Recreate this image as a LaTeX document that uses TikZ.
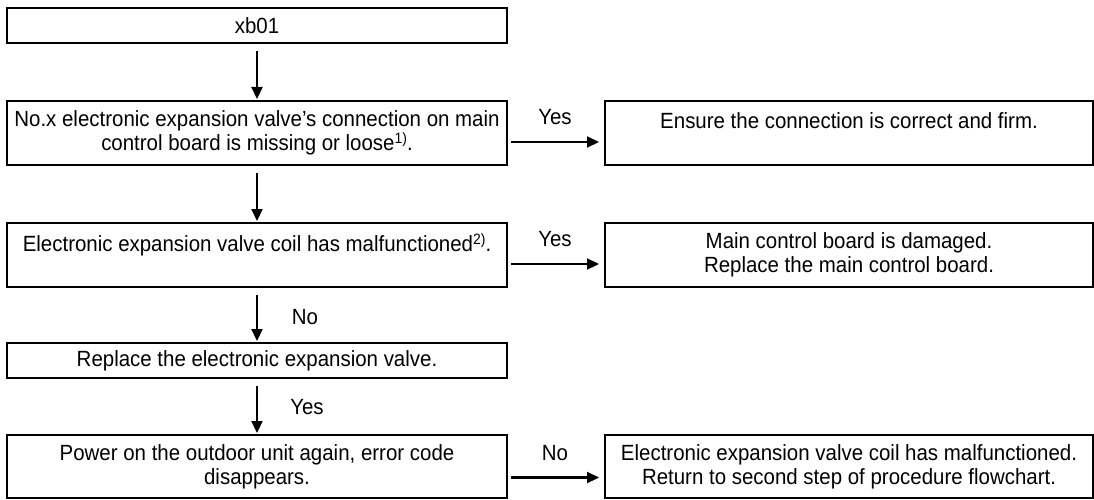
\documentclass[tikz,border=0pt]{standalone}
\usepackage{fontspec}
\setmainfont[FakeStretch=0.93]{Liberation Sans}
\usetikzlibrary{arrows.meta}
\newcommand{\fnmark}[1]{\raisebox{7pt}{\fontsize{15}{15}\selectfont #1}}
\begin{document}
\begin{tikzpicture}[x=1pt,y=-1pt,
  box/.style={draw, line width=2pt, rectangle, align=center, inner sep=2pt, font=\fontsize{22}{24}\selectfont},
  lbox/.style={box, minimum width=500pt},
  rbox/.style={box, minimum width=488pt},
  conn/.style={line width=2.2pt, -{Triangle[length=12pt,width=11pt]}},
  lab/.style={font=\fontsize{22}{24}\selectfont, inner sep=0pt}]
\useasboundingbox (0,0) rectangle (1094,500);
\node[lbox, minimum height=35pt] (b1) at (257,25.5) {xb01};
\node[lbox, minimum height=64pt] (b2) at (257,133) {No.x electronic expansion valve’s connection on main\\control board is missing or loose\fnmark{1)}.};
\node[lbox, minimum height=64pt] (b3) at (257,255) {Electronic expansion valve coil has malfunctioned\fnmark{2)}.\\\mbox{}};
\node[lbox, minimum height=35pt] (b4) at (257,360.5) {Replace the electronic expansion valve.};
\node[lbox, minimum height=63pt] (b5) at (257,466.5) {Power on the outdoor unit again, error code\\disappears.};
\node[rbox, minimum height=64pt] (r1) at (849,133) {Ensure the connection is correct and firm.\\\mbox{}};
\node[rbox, minimum height=64pt] (r2) at (849,255) {Main control board is damaged.\\Replace the main control board.};
\node[rbox, minimum height=63pt] (r3) at (849,466.5) {Electronic expansion valve coil has malfunctioned.\\Return to second step of procedure flowchart.};
\draw[conn, shorten <=7pt, shorten >=1pt] (b1.south) -- (b2.north);
\draw[conn, shorten <=7pt, shorten >=1pt] (b2.south) -- (b3.north);
\draw[conn, shorten <=7pt, shorten >=1pt] (b3.south) -- (b4.north);
\draw[conn, shorten <=7pt, shorten >=1pt] (b4.south) -- (b5.north);
\draw[conn, shorten <=3pt, shorten >=5pt] ([yshift=-9pt]b2.east) -- ([yshift=-9pt]b2.east -| r1.west);
\draw[conn, shorten <=3pt, shorten >=5pt] ([yshift=-9pt]b3.east) -- ([yshift=-9pt]b3.east -| r2.west);
\draw[conn, shorten <=3pt, shorten >=5pt] ([yshift=-11pt]b5.east) -- ([yshift=-11pt]b5.east -| r3.west);
\node[lab] (y1) at (555,117) {Yes};
\node[lab] (y2) at (555,239) {Yes};
\node[lab] (n3) at (555,453) {No};
\node[lab] (n1) at (305,317) {No};
\node[lab] (y3) at (307,407) {Yes};
\end{tikzpicture}
\end{document}
